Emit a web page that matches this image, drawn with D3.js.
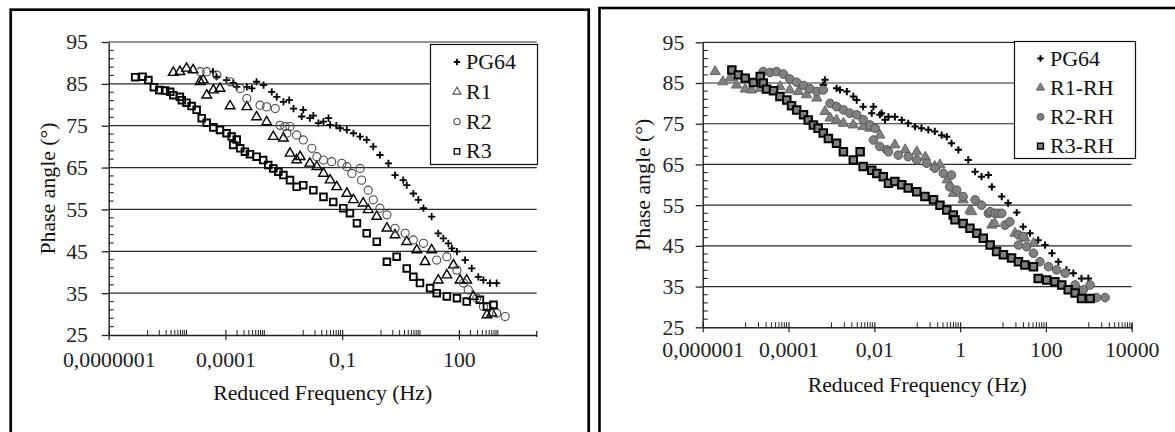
<!DOCTYPE html>
<html><head><meta charset="utf-8">
<script src="https://cdn.jsdelivr.net/npm/d3@7"></script>
<style>
body{margin:0;background:#fff;}
svg{display:block;}
</style>
</head><body>
<svg id="c" width="1175" height="432"></svg>
<script>
// ---------- DATA (log10 of reduced frequency in Hz, phase angle in degrees) ----------
// Left chart
const leftPG64LogHz = [-4.32,-4.23,-3.97,-3.80,-3.71,-3.45,-3.32,-3.20,-3.02,-2.81,-2.68,-2.51,-2.36,-2.25,-2.00,-2.04,-1.83,-1.74,-1.61,-1.48,-1.35,-1.31,-1.15,-1.05,-0.88,-0.71,-0.54,-0.37,-0.20,-0.03,0.19,0.36,0.57,0.66,0.83,0.96,1.09,1.30,1.47,1.60,1.73,1.82,1.95,2.16,2.33,2.50,2.63,2.80,2.97];
const leftPG64Phase = [87.9,86.7,85.9,85.2,84.3,84.3,83.9,85.5,84.7,83.1,81.9,80.7,81.1,79.1,78.8,77.2,76.8,77.4,75.6,76.0,76.8,75.2,75.0,74.4,74.0,73.2,72.4,71.6,70.0,68.0,66.0,63.2,62.0,60.8,58.8,57.3,55.3,53.3,49.3,48.1,46.9,45.7,44.9,42.9,40.9,38.9,38.1,37.4,37.4];

const leftR1LogHz = [-5.34,-5.17,-5.00,-4.83,-4.65,-4.57,-4.48,-4.31,-4.14,-3.88,-3.45,-3.20,-2.94,-2.77,-2.51,-2.34,-2.17,-2.08,-1.83,-1.65,-1.48,-1.31,-1.14,-0.88,-0.71,-0.46,-0.33,-0.11,0.15,0.36,0.66,0.92,1.13,1.30,1.47,1.69,1.86,2.03,2.20,2.37,2.72,2.85];
const leftR1Phase = [87.7,87.9,88.7,88.3,85.5,85.9,82.3,83.5,83.9,79.7,79.5,77.1,75.9,72.4,72.0,68.4,66.8,67.6,66.0,65.2,63.6,62.0,60.4,58.8,57.3,56.5,54.9,53.3,50.5,48.9,47.3,45.3,42.5,45.3,38.1,39.3,41.7,38.1,38.1,34.2,29.8,30.2];

const leftR2LogHz = [-4.65,-4.48,-4.22,-3.88,-3.62,-3.45,-3.11,-2.94,-2.72,-2.60,-2.47,-2.42,-2.34,-2.17,-2.00,-1.78,-1.65,-1.48,-1.27,-1.01,-0.88,-0.75,-0.54,-0.50,-0.33,-0.20,-0.03,0.15,0.36,0.62,0.83,1.09,1.43,1.69,1.95,2.12,2.24,2.46,2.63,2.97,3.19];
const leftR2Phase = [87.9,87.9,87.1,85.5,83.9,81.5,79.9,79.5,79.1,75.1,74.8,73.2,74.8,72.8,71.6,69.6,67.6,66.8,66.4,66.0,65.2,63.6,64.8,62.0,59.6,57.3,55.3,53.7,50.5,49.3,47.7,46.9,42.9,43.7,40.5,37.4,35.8,33.8,31.8,30.2,29.4];

const leftR3LogHz = [-6.32,-6.13,-5.98,-5.84,-5.70,-5.55,-5.42,-5.34,-5.17,-5.12,-5.00,-4.87,-4.74,-4.61,-4.48,-4.31,-4.14,-3.97,-3.84,-3.71,-3.80,-3.62,-3.50,-3.37,-3.20,-3.03,-2.90,-2.77,-2.64,-2.51,-2.34,-2.17,-2.00,-1.74,-1.48,-1.23,-0.97,-0.80,-0.62,-0.37,-0.11,0.15,0.40,0.66,0.83,1.00,1.26,1.43,1.69,1.95,2.20,2.54,2.72,2.89];
const leftR3Phase = [86.6,86.7,85.9,84.2,83.5,83.4,83.1,82.3,81.9,81.1,80.5,79.7,78.8,76.8,75.7,74.6,74.0,73.2,72.4,71.7,70.4,69.6,68.8,68.2,67.6,66.8,65.6,64.8,64.0,63.2,62.0,60.4,60.8,59.6,58.0,56.8,55.3,54.1,51.7,49.3,47.3,42.5,43.7,40.9,38.9,37.4,36.2,35.0,34.2,33.8,33.0,33.4,31.8,32.2];

// Right chart
const rightPG64LogHz = [-3.15,-3.19,-2.88,-2.80,-2.64,-2.49,-2.41,-2.26,-2.02,-2.06,-1.87,-1.75,-1.83,-1.67,-1.52,-1.36,-1.21,-1.05,-0.90,-0.74,-0.59,-0.43,-0.31,-0.20,-0.04,0.19,0.35,0.50,0.66,0.74,0.97,1.12,1.32,1.47,1.63,1.82,1.98,2.14,2.29,2.48,2.64,2.83,2.99];
const rightPG64Phase = [85.8,84.5,83.7,83.3,82.9,81.7,80.8,79.2,79.2,77.6,77.2,76.0,77.6,76.7,76.7,75.9,75.1,74.3,73.9,73.5,73.1,72.2,71.8,70.2,68.6,66.1,63.2,62.0,62.4,59.5,57.1,55.5,53.2,49.7,48.1,46.4,45.2,43.2,41.1,39.1,38.3,37.0,37.0];

const rightR1LogHz = [-5.71,-5.53,-5.36,-5.21,-5.01,-4.86,-4.66,-4.51,-4.20,-3.97,-3.77,-3.58,-3.34,-3.15,-3.03,-2.88,-2.72,-2.49,-2.26,-2.10,-1.87,-1.52,-1.28,-1.01,-0.81,-0.59,-0.47,-0.30,-0.16,0.07,0.23,0.27,0.74,0.81,1.28,1.51,1.71];
const rightR1Phase = [87.8,85.3,86.2,84.5,83.5,83.3,83.7,83.3,84.1,83.3,82.9,82.1,81.3,78.0,76.4,75.9,75.1,74.7,74.3,73.9,72.2,69.8,68.6,68.1,66.8,64.5,64.9,61.2,57.9,56.3,53.8,53.4,50.1,50.5,48.1,46.9,45.6];

const rightR2LogHz = [-4.59,-4.43,-4.28,-4.12,-3.97,-3.81,-3.65,-3.50,-3.34,-3.19,-3.03,-2.88,-2.72,-2.57,-2.41,-2.26,-2.10,-1.98,-2.02,-1.87,-1.71,-1.67,-1.44,-1.21,-1.01,-0.78,-0.59,-0.39,-0.20,-0.24,-0.08,0.07,0.35,0.50,0.66,0.70,0.81,0.89,0.97,1.05,1.16,1.36,1.47,1.36,1.55,1.71,1.86,2.06,2.25,2.45,2.68,2.87,3.03,3.18,3.38];
const rightR2Phase = [87.8,87.6,87.8,87.2,86.0,85.2,84.4,83.6,82.9,83.3,80.0,79.2,78.4,77.6,77.2,76.0,74.7,73.9,71.0,69.4,68.6,68.1,67.3,66.9,66.1,65.3,64.1,62.8,62.4,59.5,58.7,57.1,56.3,55.0,53.0,53.4,53.0,53.0,53.0,50.1,50.9,47.7,47.3,45.2,44.8,43.2,41.1,39.9,39.1,38.3,35.4,34.2,35.4,32.3,32.3];

const rightR3LogHz = [-5.32,-5.17,-5.01,-4.82,-4.66,-4.59,-4.51,-4.35,-4.20,-4.04,-3.93,-3.81,-3.65,-3.54,-3.42,-3.31,-3.19,-3.07,-2.88,-2.72,-2.49,-2.33,-2.26,-2.06,-1.94,-1.79,-1.67,-1.52,-1.36,-1.21,-1.01,-0.82,-0.62,-0.47,-0.31,-0.16,-0.12,0.07,0.23,0.39,0.54,0.70,0.85,1.01,1.20,1.36,1.51,1.71,1.82,2.02,2.21,2.37,2.52,2.68,2.83,3.03];
const rightR3Phase = [88.2,87.0,86.2,85.1,86.6,85.0,83.5,83.1,81.7,80.8,79.4,78.4,77.2,75.9,74.7,73.9,72.7,71.4,70.2,68.1,66.1,68.1,64.5,63.6,62.8,62.0,60.4,60.8,60.0,59.2,58.3,57.1,56.3,55.0,53.8,52.6,51.4,50.5,49.3,48.1,46.9,45.2,43.6,42.8,42.0,41.1,40.3,39.9,37.0,36.6,36.2,35.4,34.2,33.4,32.1,32.1];

// Axis ticks / labels
const yTicks = [25,35,45,55,65,75,85,95];
const leftXDomain = [1e-7, 1e4];
const leftXMajor = [1e-7, 1e-4, 1e-1, 1e2];
const leftXLabels = ["0,0000001","0,0001","0,1","100"];
const leftMinorDecades = [-6,-4,-2,0,2];
const rightXDomain = [1e-6, 1e4];
const rightXMajor = [1e-6, 1e-4, 1e-2, 1, 1e2, 1e4];
const rightXLabels = ["0,000001","0,0001","0,01","1","100","10000"];
const rightMinorDecades = [-5,-3,-1,1,3];

const leftNames = ["PG64","R1","R2","R3"];
const rightNames = ["PG64","R1-RH","R2-RH","R3-RH"];

// ---------- FONT PICK (serif, Times-like) ----------
function fontAvailable(name){
  const c = document.createElement("canvas").getContext("2d");
  const s = "ReducedFrequency 0,0000001 PG64";
  c.font = "40px monospace"; const w0 = c.measureText(s).width;
  c.font = `40px "${name}", monospace`; const w1 = c.measureText(s).width;
  return Math.abs(w0-w1) > 0.5;
}
let FONT, FS, LFS;
if (fontAvailable("Liberation Serif")) { FONT = '"Liberation Serif", serif'; FS = 21.8; LFS = 22; }
else if (fontAvailable("Tinos")) { FONT = 'Tinos, serif'; FS = 21.8; LFS = 22; }
else if (fontAvailable("Noto Serif")) { FONT = '"Noto Serif", serif'; FS = 18.5; LFS = 18.8; }
else { FONT = '"DejaVu Serif", serif'; FS = 17.5; LFS = 17.8; }

// ---------- DRAWING ----------
const svg = d3.select("#c").style("font-family", FONT);
svg.append("rect").attr("width",1175).attr("height",432).attr("fill","#fff");

// panel frames
svg.append("rect").attr("x",10.7).attr("y",9.7).attr("width",578).attr("height",440)
  .attr("fill","none").attr("stroke","#000").attr("stroke-width",2.7);
svg.append("rect").attr("x",599.5).attr("y",8).attr("width",700).attr("height",440)
  .attr("fill","none").attr("stroke","#000").attr("stroke-width",2.6);

function markerPath(kind, s){
  if(kind==="plus") return `M${-s},0H${s}M0,${-s}V${s}`;
  if(kind==="tri") return d3.symbol(d3.symbolTriangle, s)();
  if(kind==="circle") return d3.symbol(d3.symbolCircle, s)();
  if(kind==="square") return d3.symbol(d3.symbolSquare, s)();
}

function drawChart(cfg){
  const g = svg.append("g");
  const x = d3.scaleLog().domain(cfg.xDomain).range([cfg.x0, cfg.x1]);
  const y = d3.scaleLinear().domain([25,95]).range([cfg.y0, cfg.y1]);

  // gridlines
  g.append("g").selectAll("line").data(yTicks.slice(1)).join("line")
    .attr("x1",cfg.x0).attr("x2",cfg.x1)
    .attr("y1",d=>y(d)).attr("y2",d=>y(d))
    .attr("stroke","#2a2a2a").attr("stroke-width",1.2);

  // Y axis
  const ya = g.append("g").attr("transform",`translate(${cfg.x0},0)`)
    .call(d3.axisLeft(y).tickValues(yTicks).tickSize(7).tickSizeOuter(0).tickPadding(cfg.yPad));
  ya.attr("font-family", null).attr("font-size", null);
  ya.select(".domain").attr("stroke","#222").attr("stroke-width",1.4);
  ya.selectAll(".tick line").attr("stroke","#222").attr("stroke-width",1.3);
  ya.selectAll("text").style("font-family",FONT).style("font-size",FS+"px").attr("fill","#222");
  const yMinor = d3.range(27,95,2).filter(v => (v-25)%10!==0);
  g.append("g").selectAll("line").data(yMinor).join("line")
    .attr("x1",cfg.x0).attr("x2",cfg.x0+5)
    .attr("y1",d=>y(d)).attr("y2",d=>y(d))
    .attr("stroke","#222").attr("stroke-width",1.1);

  // X axis
  const xa = g.append("g").attr("transform",`translate(0,${cfg.y0})`)
    .call(d3.axisBottom(x).tickValues(cfg.xMajor).tickFormat((d,i)=>cfg.xLabels[i]).tickSize(5).tickSizeOuter(0));
  xa.attr("font-family", null).attr("font-size", null);
  xa.select(".domain").attr("stroke","#222").attr("stroke-width",1.4);
  xa.selectAll(".tick line").attr("y1",-5).attr("y2",5).attr("stroke","#222").attr("stroke-width",1.2);
  xa.selectAll("text").style("font-family",FONT).style("font-size",FS+"px").attr("fill","#222")
    .attr("dy",null).attr("y",cfg.xLabelY);
  // axis end tick
  g.append("line").attr("x1",cfg.x1).attr("x2",cfg.x1).attr("y1",cfg.y0-4).attr("y2",cfg.y0+2)
    .attr("stroke","#222").attr("stroke-width",1.2);
  // minor ticks
  const minor = [];
  cfg.minorDecades.forEach(e => { for(let k=1;k<=10;k++){ const v = k*Math.pow(10,e);
      if(!cfg.xMajor.some(m => Math.abs(Math.log10(m)-Math.log10(v))<1e-6)) minor.push(v);} });
  g.append("g").selectAll("line").data(minor).join("line")
    .attr("x1",d=>x(d)).attr("x2",d=>x(d))
    .attr("y1",cfg.y0).attr("y2",cfg.y0-5)
    .attr("stroke","#222").attr("stroke-width",1);

  // series
  cfg.series.forEach(s => {
    const pts = s.logHz.map((lf,i)=>({f:Math.pow(10,lf), v:s.phase[i]}));
    g.append("g").selectAll("path").data(pts).join("path")
      .attr("transform",d=>`translate(${x(d.f)},${y(d.v)})`)
      .attr("d",markerPath(s.kind, s.size))
      .attr("fill",s.fill).attr("stroke",s.stroke).attr("stroke-width",s.sw);
  });

  // axis titles
  g.append("text").attr("x",(cfg.x0+cfg.x1)/2).attr("y",cfg.xTitleY).attr("text-anchor","middle")
    .style("font-size",FS+"px").attr("fill","#111").text("Reduced Frequency (Hz)");
  g.append("text").attr("transform",`translate(${cfg.yTitleX},${(cfg.y0+cfg.y1)/2}) rotate(-90)`)
    .attr("text-anchor","middle").style("font-size",FS+"px").attr("fill","#111").text("Phase angle (°)");

  // legend
  const L = cfg.legend;
  const lg = g.append("g");
  lg.append("rect").attr("x",L.x).attr("y",L.y).attr("width",L.w).attr("height",L.h)
    .attr("fill","#fff").attr("stroke","#111").attr("stroke-width",1.2);
  cfg.series.forEach((s,i) => {
    const by = L.firstBase + i*L.step;
    lg.append("path").attr("transform",`translate(${L.mx},${by-7})`)
      .attr("d",markerPath(s.kind, s.lsize))
      .attr("fill",s.fill).attr("stroke",s.lstroke||s.stroke).attr("stroke-width",s.lsw||s.sw);
    lg.append("text").attr("x",L.tx).attr("y",by).style("font-size",LFS+"px").attr("fill","#111").text(cfg.names[i]);
  });
}

drawChart({
  x0:108.7, x1:536.7, y0:335, y1:42,
  xDomain:leftXDomain, xMajor:leftXMajor, xLabels:leftXLabels, minorDecades:leftMinorDecades,
  yPad:13.7, xLabelY:32, xTitleY:400, yTitleX:55,
  names:leftNames,
  series:[
    {logHz:leftPG64LogHz, phase:leftPG64Phase, kind:"plus", size:3.6, lsize:3.2, fill:"none", stroke:"#000", sw:1.8},
    {logHz:leftR1LogHz, phase:leftR1Phase, kind:"tri", size:40, lsize:28, fill:"none", stroke:"#000", sw:1.4, lstroke:"#555", lsw:1.1},
    {logHz:leftR2LogHz, phase:leftR2Phase, kind:"circle", size:52, lsize:30, fill:"none", stroke:"#4a4a4a", sw:1.1},
    {logHz:leftR3LogHz, phase:leftR3Phase, kind:"square", size:44, lsize:30, fill:"none", stroke:"#000", sw:1.9, lsw:1.3}
  ],
  legend:{x:430.5, y:44.5, w:107, h:120, mx:457, tx:466, firstBase:69, step:29.8}
});

drawChart({
  x0:702.7, x1:1131.7, y0:327.3, y1:42.3,
  xDomain:rightXDomain, xMajor:rightXMajor, xLabels:rightXLabels, minorDecades:rightMinorDecades,
  yPad:11.4, xLabelY:30, xTitleY:392, yTitleX:650,
  names:rightNames,
  series:[
    {logHz:rightPG64LogHz, phase:rightPG64Phase, kind:"plus", size:3.6, lsize:3.2, fill:"none", stroke:"#000", sw:2},
    {logHz:rightR1LogHz, phase:rightR1Phase, kind:"tri", size:46, lsize:30, fill:"#808080", stroke:"#666", sw:1},
    {logHz:rightR2LogHz, phase:rightR2Phase, kind:"circle", size:58, lsize:36, fill:"#808080", stroke:"#555", sw:1},
    {logHz:rightR3LogHz, phase:rightR3Phase, kind:"square", size:56, lsize:34, fill:"#808080", stroke:"#000", sw:2, lsw:1.5}
  ],
  legend:{x:1014.5, y:41.5, w:121, h:117, mx:1040.5, tx:1050, firstBase:65.5, step:29.2}
});
</script>
</body></html>
